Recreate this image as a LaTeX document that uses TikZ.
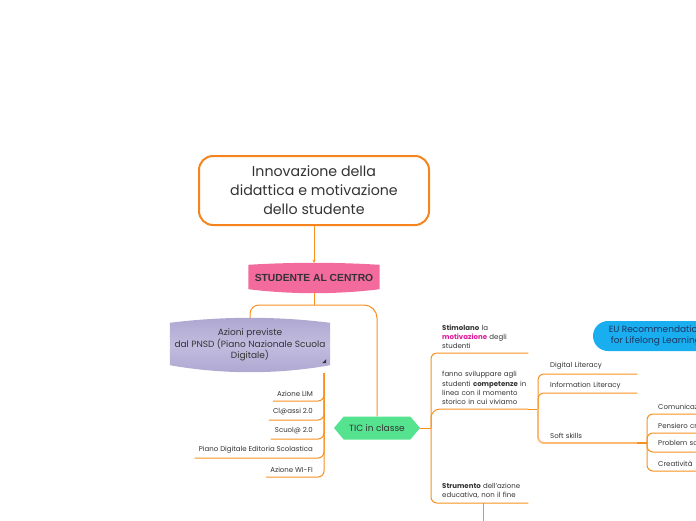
\documentclass[tikz,border=0pt]{standalone}
\usepackage{fontspec}
\setmainfont{Poppins}
\newfontfamily\titlefont{Liberation Sans}
\usetikzlibrary{calc,shapes.symbols,backgrounds,arrows.meta}

\definecolor{mapOrange}{HTML}{F5841F}
\definecolor{lineOrange}{HTML}{F7901E}
\definecolor{softOrange}{HTML}{FDB974}
\definecolor{pinkTitle}{HTML}{F26B9C}
\definecolor{lavender}{HTML}{C2BCDF}
\definecolor{lavEdge}{HTML}{ADA6D0}
\definecolor{ticGreen}{HTML}{55E38F}
\definecolor{euBlue}{HTML}{19AEEF}
\definecolor{euText}{HTML}{1E3560}
\definecolor{motivPink}{HTML}{E0199A}
\definecolor{textGray}{HTML}{333333}

\newcommand\bannerfill[4]{%
  \path[#1] ($(#2.north west)+(0,#3)$)
    .. controls ($(#2.north west)!.33!(#2.north east)+(0,-#3/3)$) and ($(#2.north west)!.67!(#2.north east)+(0,-#3/3)$) .. ($(#2.north east)+(0,#3)$)
    -- ($(#2.south east)+(0,-#4)$)
    .. controls ($(#2.south west)!.67!(#2.south east)+(0,#4/3)$) and ($(#2.south west)!.33!(#2.south east)+(0,#4/3)$) .. ($(#2.south west)+(0,-#4)$)
    -- cycle;}

\tikzset{
  branch/.style={draw=lineOrange, line width=1pt, rounded corners=6pt},
  softbranch/.style={branch, draw=softOrange, line width=1.8pt},
  leftleaf/.style={anchor=south east, inner xsep=4pt, inner ysep=4.5pt, text=textGray, font=\fontsize{7}{9}\selectfont},
  rightleaf/.style={anchor=south west, inner xsep=0pt, inner ysep=4pt, text=textGray, align=left, font=\fontsize{7}{9.3}\selectfont},
}

\begin{document}
\begin{tikzpicture}[x=1pt,y=-1pt]
\clip (0,0) rectangle (696,520);

\node[draw=mapOrange, line width=2pt, rounded corners=14pt, minimum width=230pt, minimum height=69pt, align=center, text=textGray, font=\fontsize{14.2}{19}\selectfont] (idea) at (314,190.5) {Innovazione della\\didattica e motivazione\\dello studente};
\node[text=textGray, font=\titlefont\bfseries\fontsize{10.3}{12}\selectfont, minimum width=131pt, minimum height=30pt] (centro) at (314,278) {STUDENTE AL CENTRO};
\node[align=center, text=textGray, font=\fontsize{9}{11.7}\selectfont, minimum width=160pt, minimum height=54pt] (pnsd) at (250,345) {Azioni previste\\dal PNSD (Piano Nazionale Scuola\\Digitale)};
\node[signal, signal to=east and west, signal pointer angle=100, fill=ticGreen, minimum width=86pt, minimum height=23pt, text=textGray, font=\fontsize{9}{11}\selectfont] (tic) at (377,428) {TIC in classe};
\node[fill=euBlue, rounded corners=15pt, minimum width=126pt, minimum height=30pt, align=center, text=euText, font=\fontsize{9}{11}\selectfont] (eu) at (656,336) {EU Recommendation\\for Lifelong Learning};

\begin{scope}[on background layer]
\bannerfill{fill=pinkTitle}{centro}{2}{4}
\bannerfill{top color=lavEdge, bottom color=lavEdge, middle color=lavender}{pnsd}{5}{7}
\end{scope}
\fill[textGray] ($(pnsd.south east)+(-4,-9)$) -- ++(0,-4) -- ++(-4,4) -- cycle;

\coordinate (fork) at (314,305);
\draw[branch, -{Stealth[length=3pt,width=3pt]}] (idea.south) -- (centro.north);
\draw[branch] (centro.south) -- (fork);
\draw[branch, rounded corners=9pt] (fork) -| (pnsd.north);
\draw[branch, rounded corners=13pt] (fork) -| (tic.north);

\node[leftleaf] (lim) at (317,401) {Azione LIM};
\node[leftleaf] (classi) at (317,420) {Cl@assi 2.0};
\node[leftleaf] (scuola) at (317,439) {Scuol@ 2.0};
\node[leftleaf] (editoria) at (317,458) {Piano Digitale Editoria Scolastica};
\node[leftleaf] (wifi) at (317,477) {Azione WI-FI};
\coordinate (pnsdfoot) at (324,373);
\draw[branch] (lim.south west) -| (pnsdfoot);
\draw[branch] (classi.south west) -| (pnsdfoot);
\draw[branch] (scuola.south west) -| (pnsdfoot);
\draw[branch] (editoria.south west) -| (pnsdfoot);
\draw[branch] (wifi.south west) -| (pnsdfoot);

\node[rightleaf, text width=86pt] (stim) at (442,353) {\textbf{Stimolano} la\\\textbf{\textcolor{motivPink}{motivazione}} degli\\studenti};
\node[rightleaf, text width=86pt] (fanno) at (442,409) {fanno sviluppare agli\\studenti \textbf{competenze} in\\linea con il momento\\storico in cui viviamo};
\node[rightleaf, text width=86pt] (strum) at (442,503) {\textbf{Strumento} dell'azione\\educativa, non il fine};
\coordinate (ticjoint) at (431,428);
\coordinate (offpage) at ($(strum.south)+(-2,25)$);
\draw[branch] (tic.east) -- (ticjoint);
\draw[branch] (ticjoint) |- (stim.south east);
\draw[branch, rounded corners=9pt] (ticjoint) |- (fanno.south east);
\draw[branch] (ticjoint) |- (strum.south east);
\draw[branch] (offpage |- strum.south) -- (offpage);

\node[rightleaf, text width=87pt] (digital) at (550,374) {Digital Literacy};
\node[rightleaf, text width=87pt] (info) at (550,393) {Information Literacy};
\node[rightleaf, text width=87pt] (soft) at (550,443) {Soft skills};
\coordinate (litjoint) at (538,409);
\draw[branch] (fanno.south east) -- (litjoint);
\draw[branch] (litjoint) |- (digital.south east);
\draw[branch] (litjoint) |- (info.south east);
\draw[softbranch] (litjoint) |- (soft.south east);

\node[rightleaf, text width=70pt] (comm) at (658,414) {Comunicazione};
\node[rightleaf, text width=70pt] (pens) at (658,433) {Pensiero critico};
\node[rightleaf, text width=70pt] (prob) at (658,452) {Problem solving};
\node[rightleaf, text width=70pt] (crea) at (658,471) {Creatività};
\coordinate (skilljoint) at (647,443);
\draw[branch, line width=2pt] (soft.south east) -- (skilljoint);
\draw[branch] (skilljoint) |- (comm.south east);
\draw[branch] (skilljoint) |- (pens.south east);
\draw[branch] (skilljoint) |- (prob.south east);
\draw[branch] (skilljoint) |- (crea.south east);
\end{tikzpicture}
\end{document}
